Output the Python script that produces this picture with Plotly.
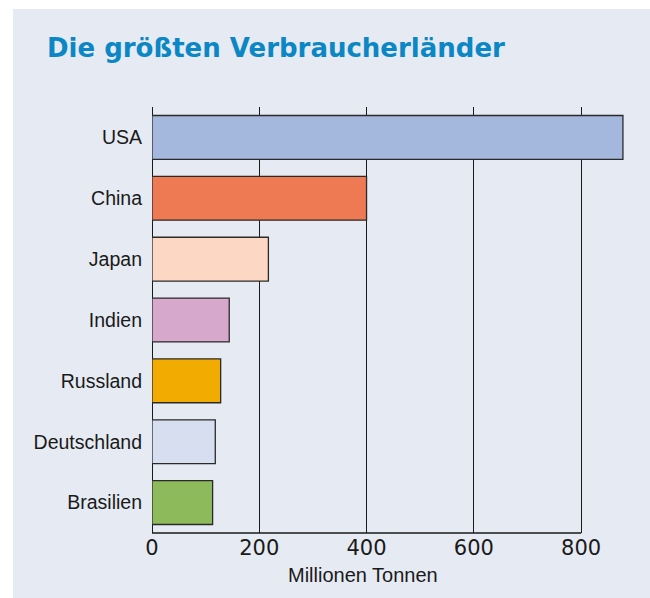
import plotly.graph_objects as go

countries = ["USA", "China", "Japan", "Indien", "Russland", "Deutschland", "Brasilien"]
values = [878, 400, 217, 144, 128, 118, 113]
colors = ["#a4b7dd", "#ee7a53", "#fcd8c4", "#d6a9cc", "#f2ab00", "#d6deef", "#8dbb5c"]
x_ticks = [0, 200, 400, 600, 800]

PANEL = "#e6eaf2"
LINE = "#1a1a1a"

W, H = 650, 598
L, R, T, B = 152, 26, 107, 65
PW, PH = W - L - R, H - T - B

fig = go.Figure(go.Bar(
    x=values, y=countries, orientation="h",
    marker=dict(color=colors, line=dict(color="#2a2a2a", width=1.3)),
    width=0.72,
))

fig.update_layout(
    width=W, height=H,
    paper_bgcolor="white", plot_bgcolor=PANEL,
    margin=dict(l=L, r=R, t=T, b=B),
    showlegend=False,
    title=dict(text="<b>Die größten Verbraucherländer</b>",
               x=47/W, xanchor="left", y=1-48/H, yanchor="middle",
               font=dict(family="DejaVu Sans", size=26, color="#0a87c4")),
    shapes=[
        dict(type="rect", xref="paper", yref="paper",
             x0=(13-L)/PW, x1=2, y0=-1, y1=(H-B-9)/PH,
             fillcolor=PANEL, line=dict(width=0), layer="below"),
        dict(type="line", xref="x", yref="paper", x0=0, x1=800, y0=0, y1=0,
             line=dict(color=LINE, width=1.3), layer="above"),
    ],
    annotations=[
        dict(text="Millionen Tonnen", xref="paper", yref="paper",
             x=(363-L)/PW, y=-(575-(H-B))/PH, xanchor="center", yanchor="middle",
             showarrow=False,
             font=dict(family="Liberation Sans, Arial", size=20, color="#1a1a1a")),
    ],
)

fig.update_xaxes(
    range=[0, 880], tickvals=x_ticks, showgrid=True, gridcolor=LINE, gridwidth=1.3,
    zeroline=True, zerolinecolor=LINE, zerolinewidth=1.3, showline=False,
    tickfont=dict(family="DejaVu Sans", size=21, color="#1a1a1a"),
    fixedrange=True,
)
fig.update_yaxes(
    autorange="reversed", showgrid=False, showline=False, zeroline=False,
    tickfont=dict(family="Liberation Sans, Arial", size=19.5, color="#1a1a1a"),
    ticklabelstandoff=9, fixedrange=True,
)

fig.write_html(
    "out.html",
    config={"displayModeBar": False},
    post_script="document.body.style.margin='0';document.body.style.overflow='hidden';",
)
